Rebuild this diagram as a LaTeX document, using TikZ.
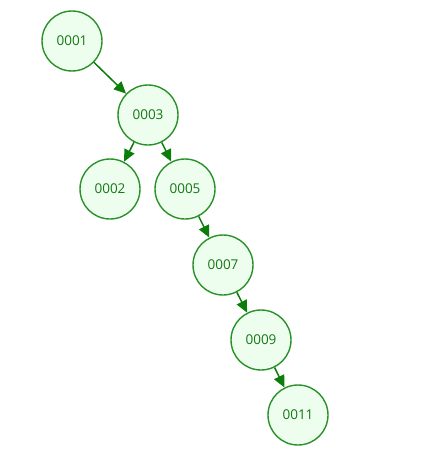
\documentclass[tikz,border=0pt]{standalone}
\usepackage{fontspec}
\setmainfont{Open Sans}
\usetikzlibrary{arrows.meta}
\definecolor{nodefill}{RGB}{238,254,238}
\definecolor{nodeline}{RGB}{40,145,40}
\definecolor{edgecol}{RGB}{10,125,10}
\definecolor{textcol}{RGB}{20,120,20}
\begin{document}
\begin{tikzpicture}[x=1pt,y=-1pt,
  treenode/.style={circle,draw=nodeline,fill=nodefill,line width=1.4pt,minimum size=60pt,inner sep=0pt,text=textcol,font=\fontsize{13.5}{16}\selectfont},
  edge/.style={draw=edgecol,line width=1.5pt,-{Triangle[length=12pt,width=11pt]}}]
\useasboundingbox (0,0) rectangle (430,471);
\node[treenode] (n1) at (72,41) {0001};
\node[treenode] (n3) at (148,115) {0003};
\node[treenode] (n2) at (110,189) {0002};
\node[treenode] (n5) at (185,189) {0005};
\node[treenode] (n7) at (223,265) {0007};
\node[treenode] (n9) at (261,340) {0009};
\node[treenode] (n11) at (298,415) {0011};
\draw[edge] (n1) -- (n3);
\draw[edge] (n3) -- (n2);
\draw[edge] (n3) -- (n5);
\draw[edge] (n5) -- (n7);
\draw[edge] (n7) -- (n9);
\draw[edge] (n9) -- (n11);
\end{tikzpicture}
\end{document}
